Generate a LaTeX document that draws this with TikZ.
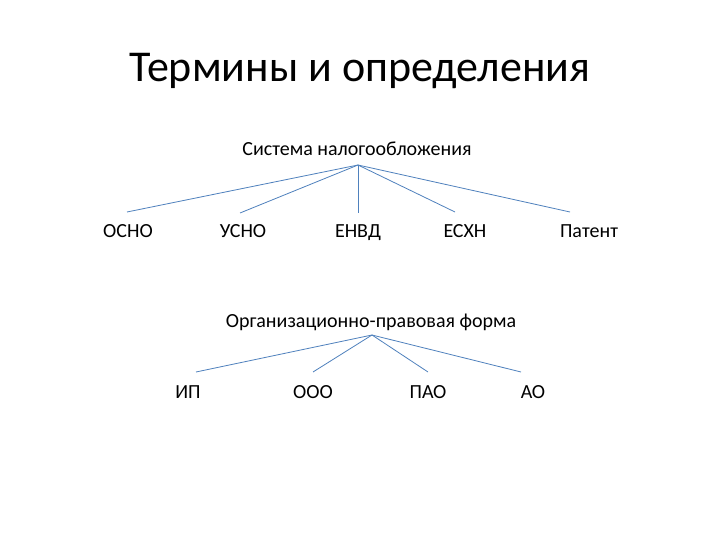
\documentclass[tikz,border=0pt]{standalone}
\usepackage{fontspec}
\setmainfont{Carlito}
\definecolor{lineblue}{RGB}{79,129,189}
\tikzset{lbl/.style={inner sep=0pt,anchor=base,font=\fontsize{20}{24}\selectfont},
  conn/.style={draw=lineblue,line width=0.8pt}}
\begin{document}
\begin{tikzpicture}[x=1pt,y=-1pt]
\useasboundingbox[fill=white] (0,0) rectangle (720,540);
\node[inner sep=0pt,anchor=base,font=\fontsize{44}{52}\selectfont] (title) at (360,82) {Термины и определения};
\node[lbl] (sys) at (357,156) {Система налогообложения};
\coordinate (h1) at (358,165);
\node[lbl] (osno) at (128,237) {ОСНО};
\node[lbl] (usno) at (243,237) {УСНО};
\node[lbl] (envd) at (358,237) {ЕНВД};
\node[lbl] (esxn) at (465,237) {ЕСХН};
\node[lbl] (pat) at (589,237) {Патент};
\coordinate (e1) at (127,212);
\coordinate (e2) at (240,213);
\coordinate (e3) at (358,213);
\coordinate (e4) at (455,212);
\coordinate (e5) at (570,212);
\foreach \e in {e1,e2,e3,e4,e5} \draw[conn] (h1) -- (\e);
\node[lbl] (org) at (371,327) {Организационно-правовая форма};
\coordinate (h2) at (372,335);
\node[lbl] (ip) at (188,398) {ИП};
\node[lbl] (ooo) at (313,398) {ООО};
\node[lbl] (pao) at (428,398) {ПАО};
\node[lbl] (ao) at (533,398) {АО};
\coordinate (f1) at (196,372);
\coordinate (f2) at (313,372);
\coordinate (f3) at (428,372);
\coordinate (f4) at (521,372);
\foreach \e in {f1,f2,f3,f4} \draw[conn] (h2) -- (\e);
\end{tikzpicture}
\end{document}
